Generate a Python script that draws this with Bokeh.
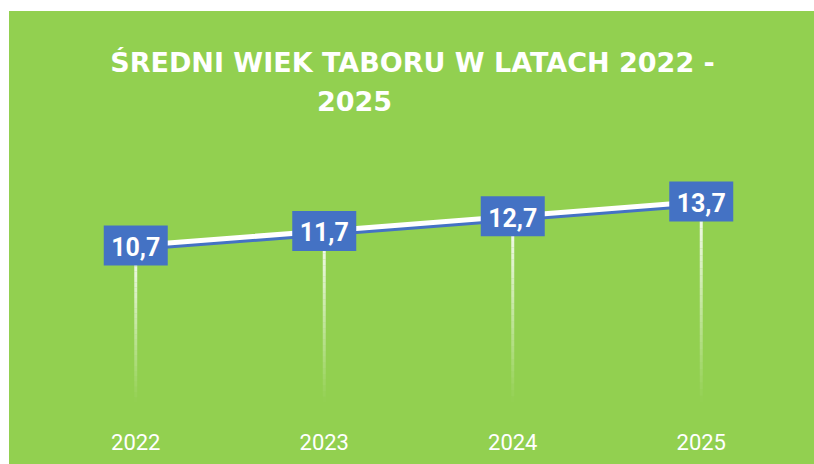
from bokeh.plotting import figure
from bokeh.models import FactorRange, Range1d, Label, ColumnDataSource, Spacer
from bokeh.layouts import column, row
from bokeh.core.properties import value
from bokeh.embed import file_html
from bokeh.resources import INLINE

# ---- data ----
years = ["2022", "2023", "2024", "2025"]
avg_age = [10.7, 11.7, 12.7, 13.7]
labels = ["10,7", "11,7", "12,7", "13,7"]
title_line1 = "ŚREDNI WIEK TABORU W LATACH 2022 -"
title_line2 = "2025"

GREEN = "#92D050"
BLUE = "#4472C4"

OX, OY = 9, 11          # offset of the green chart area
W, H = 805, 453
ML, MR, MB = 32, 19, 62
frame_h = H - MB
Y_END = 26.66

p = figure(width=W, height=H, output_backend="svg", toolbar_location=None,
           x_range=FactorRange(factors=years, range_padding=0),
           y_range=Range1d(0, Y_END),
           y_axis_location=None,
           min_border_left=ML, min_border_right=MR,
           min_border_top=0, min_border_bottom=MB)
p.background_fill_color = GREEN
p.border_fill_color = GREEN
p.styles = {"background-color": GREEN}
p.outline_line_color = None
p.grid.visible = False

# shadow range: same data drawn 3px lower
d = 3 * Y_END / frame_h
p.extra_y_ranges = {"shadow": Range1d(d, Y_END + d)}

# drop lines with fading gradient (white -> transparent toward bottom)
N = 30
for i in range(N):
    y0 = [v * i / N for v in avg_age]
    y1 = [v * (i + 1) / N for v in avg_age]
    p.segment(x0=years, y0=y0, x1=years, y1=y1, line_color="white",
              line_width=3, line_alpha=(i + 0.5) / N * 0.95)

# line with blue shadow
p.line(years, avg_age, line_color=BLUE, line_width=5, y_range_name="shadow")
p.line(years, avg_age, line_color="white", line_width=5)

src = ColumnDataSource(dict(x=years, y=avg_age, t=labels))
p.rect(x="x", y="y", width=64, height=40, width_units="screen",
       height_units="screen", fill_color=BLUE, line_color=None, source=src)
p.text(x="x", y="y", text="t", source=src, text_color="white",
       text_font=value("Roboto"), text_font_style="bold",
       text_font_size="25px", text_align="center", text_baseline="middle",
       y_offset=1)

# axis
ax = p.xaxis[0]
ax.axis_line_color = None
ax.major_tick_line_color = None
ax.minor_tick_line_color = None
ax.major_label_text_color = "white"
ax.major_label_text_font = "Roboto"
ax.major_label_text_font_size = "22px"
ax.major_label_standoff = 25

# title as two labels inside the frame
u = (W - ML - MR) / len(years)  # px per category
px_per_val = frame_h / Y_END
frame_bottom_page = OY + frame_h
def xs(page_x):
    return (page_x - OX - ML) / u
def ys(page_y):
    return (frame_bottom_page - page_y) / px_per_val

p.add_layout(Label(x=xs(412), y=ys(62), text=title_line1, text_color="white",
                   text_font="DejaVu Sans", text_font_style="bold",
                   text_font_size="27px", text_align="center",
                   text_baseline="alphabetic"))
p.add_layout(Label(x=xs(354), y=ys(100), text=title_line2, text_color="white",
                   text_font="DejaVu Sans", text_font_style="bold",
                   text_font_size="27px", text_align="center",
                   text_baseline="alphabetic"))

layout = column(Spacer(width=W + OX, height=OY),
                row(Spacer(width=OX, height=H), p, spacing=0), spacing=0)
open("out.html", "w").write(file_html(layout, INLINE))
